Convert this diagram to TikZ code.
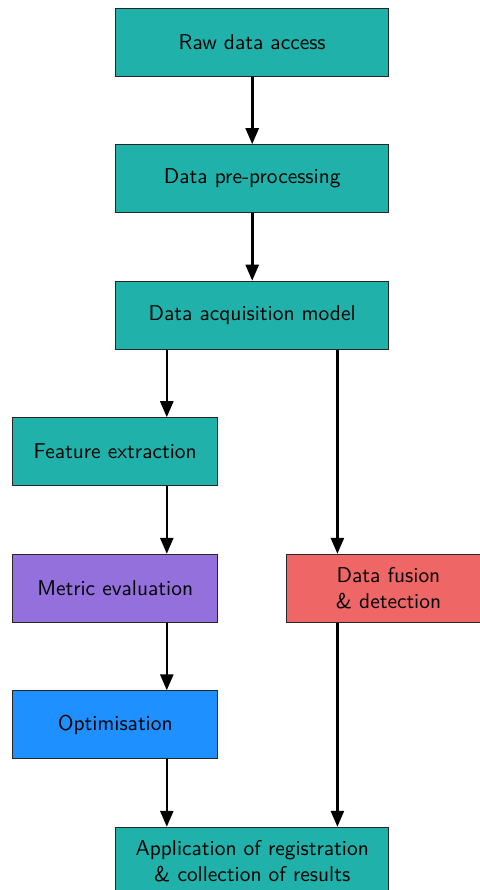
\documentclass[tikz,border=0pt]{standalone}
\usetikzlibrary{arrows.meta}
\definecolor{tealbox}{HTML}{20B2AA}
\definecolor{purplebox}{HTML}{9370DB}
\definecolor{redbox}{HTML}{EE6666}
\definecolor{bluebox}{HTML}{1E90FF}
\tikzset{
  stagebox/.style={draw=black!85, line width=0.5pt, rectangle, align=center,
    font=\sffamily\fontsize{10.7}{12.8}\selectfont, inner sep=0pt},
  widebox/.style={stagebox, minimum width=136.5pt, minimum height=34pt},
  narrowbox/.style={stagebox, minimum width=102.5pt, minimum height=34pt},
  flow/.style={line width=1.3pt, -{Triangle[length=8pt,width=6.5pt]}},
}
\begin{document}
\begin{tikzpicture}[x=0.5pt, y=-0.5pt]
  \useasboundingbox (0,0) rectangle (480,890);
  \clip (0,0) rectangle (480,890);

  % main pipeline
  \node[widebox, fill=tealbox] (raw) at (252.2,42.2) {Raw data access};
  \node[widebox, fill=tealbox] (pre) at (252.2,178.7) {Data pre-processing};
  \node[widebox, fill=tealbox] (acq) at (252.2,315.2) {Data acquisition model};

  % left branch
  \node[narrowbox, fill=tealbox]   (feat) at (115.2,451.7) {Feature extraction};
  \node[narrowbox, fill=purplebox] (metric) at (115.2,588.3) {Metric evaluation};
  \node[narrowbox, fill=bluebox]   (opt) at (115.2,724.8) {Optimisation};

  % right branch
  \node[narrowbox, fill=redbox] (fusion) at (388.5,588.3) {Data fusion\\\& detection};

  % final stage
  \node[widebox, fill=tealbox] (app) at (252.2,861.3) {Application of registration\\\& collection of results};

  % x positions of the two branch connectors
  \coordinate (lx) at (166.8,0);
  \coordinate (rx) at (337.4,0);

  \draw[flow] (raw) -- (pre);
  \draw[flow] (pre) -- (acq);
  \draw[flow] (acq.south -| lx) -- (feat.north -| lx);
  \draw[flow] (feat.south -| lx) -- (metric.north -| lx);
  \draw[flow] (metric.south -| lx) -- (opt.north -| lx);
  \draw[flow] (opt.south -| lx) -- (app.north -| lx);
  \draw[flow] (acq.south -| rx) -- (fusion.north -| rx);
  \draw[flow] (fusion.south -| rx) -- (app.north -| rx);
\end{tikzpicture}
\end{document}
